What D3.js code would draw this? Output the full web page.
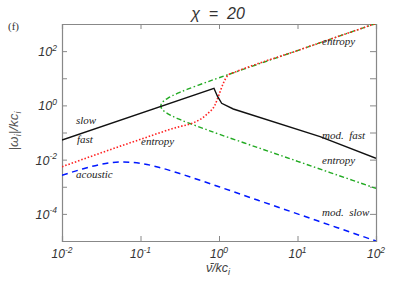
<!DOCTYPE html>
<html><head><meta charset="utf-8">
<script src="https://cdn.jsdelivr.net/npm/d3@7"></script>
<style>
html,body{margin:0;padding:0;background:#fff;}
svg{display:block;}
</style></head>
<body>
<svg id="chart" width="407" height="291"></svg>
<script>
// ---- data ----
const xTicks = [1e-2, 1e-1, 1e0, 1e1, 1e2];
const xTickExp = ["-2", "-1", "0", "1", "2"];
const yTicks = [1e-5, 1e-4, 1e-3, 1e-2, 1e-1, 1e0, 1e1, 1e2, 1e3];
const yLabelTicks = [1e-4, 1e-2, 1e0, 1e2];
const yTickExp = ["-4", "-2", "0", "2"];

// solid black: slow -> mod. fast
const blackNu    = [0.01, 0.863, 0.951, 1.081, 1.52, 19.4, 100];
const blackOmega = [0.0525, 4.27, 2.22, 1.19, 0.736, 0.070, 0.0112];

// red dotted: entropy
const redNu    = [0.01, 0.0986, 0.318, 0.428, 0.573, 0.724, 0.889, 0.979, 1.135, 1.312, 1.60, 10, 100];
const redOmega = [0.00547, 0.0552, 0.166, 0.206, 0.302, 0.511, 1.035, 2.09, 6.53, 13.2, 16.8, 105, 1050];

// green dash-dot: entropy (upper & lower branch joined at a nose)
const greenNu    = [100, 31.62, 10, 3.162, 1, 0.631, 0.398, 0.3162, 0.2512, 0.2239, 0.1995, 0.1905, 0.1841, 0.1816,
                    0.1841, 0.1905, 0.1995, 0.2239, 0.2512, 0.3162, 0.398, 0.631, 1, 3.162, 10, 31.62, 100];
const greenOmega = [1050, 332, 105, 33.2, 10.4, 6.49, 3.95, 3.02, 2.23, 1.86, 1.48, 1.30, 1.12, 0.955,
                    0.811, 0.70, 0.615, 0.489, 0.408, 0.302, 0.231, 0.141, 0.0867, 0.0274, 0.00867, 0.00274, 0.00087];

// blue dashed: acoustic -> mod. slow
const blueNu    = [0.01, 0.01778, 0.03162, 0.05623, 0.1, 0.1778, 0.3162, 0.5623, 1, 3.162, 10, 31.62, 100];
const blueOmega = [0.00263, 0.00443, 0.00673, 0.00821, 0.00732, 0.00506, 0.00306, 0.00177, 0.0010, 0.000316, 0.0001, 0.0000316, 0.00001];

const labels = [
  {t: "slow", x: 76, y: 124},
  {t: "fast", x: 77, y: 143},
  {t: "entropy", x: 141, y: 145},
  {t: "acoustic", x: 76, y: 178},
  {t: "entropy", x: 322, y: 45},
  {t: "mod.  fast", x: 322, y: 139},
  {t: "entropy", x: 322, y: 164},
  {t: "mod.  slow", x: 322, y: 216}
];

// ---- layout ----
const L = 62, R = 376, T = 24, B = 241;
const svg = d3.select("#chart");
const x = d3.scaleLog().domain([1e-2, 1e2]).range([L, R]);
const y = d3.scaleLog().domain([1e-5, 1e3]).range([B, T]);
const axisColor = "#888";
const textColor = "#333";

svg.append("defs").append("clipPath").attr("id", "clip")
  .append("rect").attr("x", L).attr("y", T).attr("width", R - L).attr("height", B - T);

// axes
const tk = 5;
const gB = svg.append("g").attr("transform", `translate(0,${B})`)
  .call(d3.axisBottom(x).tickValues(xTicks).tickSize(-tk).tickFormat(""));
const gT = svg.append("g").attr("transform", `translate(0,${T})`)
  .call(d3.axisTop(x).tickValues(xTicks).tickSize(-tk).tickFormat(""));
const gL = svg.append("g").attr("transform", `translate(${L},0)`)
  .call(d3.axisLeft(y).tickValues(yTicks).tickSize(-tk).tickFormat(""));
const gR = svg.append("g").attr("transform", `translate(${R},0)`)
  .call(d3.axisRight(y).tickValues(yTicks).tickSize(-tk - 1).tickFormat(""));
[gB, gT, gL, gR].forEach(g => {
  g.selectAll(".domain").attr("stroke", axisColor).attr("stroke-width", 1.2);
  g.selectAll(".tick line").attr("stroke", axisColor).attr("stroke-width", 1);
});

// curves
const line = d3.line().x(d => x(d[0])).y(d => y(d[1]));
const lineM = d3.line().x(d => x(d[0])).y(d => y(d[1])).curve(d3.curveMonotoneX);
const lineC = d3.line().x(d => x(d[0])).y(d => y(d[1])).curve(d3.curveCatmullRom.alpha(0.5));
const plot = svg.append("g").attr("clip-path", "url(#clip)");
const zip = (a, b) => a.map((v, i) => [v, b[i]]);

plot.append("path").datum(zip(blueNu, blueOmega)).attr("d", lineM)
  .attr("fill", "none").attr("stroke", "#0018ff").attr("stroke-width", 1.5)
  .attr("stroke-dasharray", "6,4.5");
plot.append("path").datum(zip(greenNu, greenOmega)).attr("d", lineC)
  .attr("fill", "none").attr("stroke", "#22aa22").attr("stroke-width", 1.4)
  .attr("stroke-dasharray", "5,2.5,1.5,2.5");
plot.append("path").datum(zip(redNu, redOmega)).attr("d", lineM)
  .attr("fill", "none").attr("stroke", "#ff2020").attr("stroke-width", 1.6)
  .attr("stroke-dasharray", "1.5,1.9");
plot.append("path").datum(zip(blackNu, blackOmega)).attr("d", line)
  .attr("fill", "none").attr("stroke", "#111").attr("stroke-width", 1.4);

// curve labels
svg.append("g").selectAll("text").data(labels).join("text")
  .attr("x", d => d.x).attr("y", d => d.y)
  .attr("font-family", "'Liberation Serif', 'DejaVu Serif', serif")
  .attr("font-style", "italic").attr("font-size", 11).attr("fill", "#222")
  .style("white-space", "pre")
  .text(d => d.t);

// tick labels
const tickFont = "'Liberation Sans', Arial, sans-serif";
const xl = svg.append("g");
xTicks.forEach((v, i) => {
  const t = xl.append("text").attr("x", x(v)).attr("y", 258)
    .attr("text-anchor", "middle").attr("font-family", tickFont)
    .attr("font-style", "italic").attr("font-size", 12).attr("fill", textColor);
  t.append("tspan").text("10");
  t.append("tspan").attr("dy", -5.5).attr("font-size", 8.5).text(xTickExp[i]);
});
const yl = svg.append("g");
yLabelTicks.forEach((v, i) => {
  const t = yl.append("text").attr("x", 57).attr("y", y(v) + 5)
    .attr("text-anchor", "end").attr("font-family", tickFont)
    .attr("font-style", "italic").attr("font-size", 12.5).attr("fill", textColor);
  t.append("tspan").text("10");
  t.append("tspan").attr("dy", -5.5).attr("font-size", 8.5).text(yTickExp[i]);
});

// axis titles
const xt = svg.append("text").attr("x", 218).attr("y", 272).attr("text-anchor", "middle")
  .attr("font-family", tickFont).attr("font-style", "italic").attr("font-size", 12.5).attr("fill", "#444");
xt.append("tspan").text("\u03BD\u0304/kc");
xt.append("tspan").attr("dy", 3).attr("font-size", 9).text("i");

const yt = svg.append("text").attr("transform", "translate(18,131) rotate(-90)")
  .attr("text-anchor", "middle")
  .attr("font-family", tickFont).attr("font-style", "italic").attr("font-size", 13.5).attr("fill", "#555");
yt.append("tspan").text("|\u03C9");
yt.append("tspan").attr("dy", 3).attr("font-size", 9).text("i");
yt.append("tspan").attr("dy", -3).text("|/kc");
yt.append("tspan").attr("dy", 3).attr("font-size", 9).text("i");

// title
svg.append("text").attr("x", 218).attr("y", 19).attr("text-anchor", "middle")
  .attr("font-family", tickFont).attr("font-style", "italic").attr("font-size", 16).attr("fill", textColor)
  .style("white-space", "pre").text("\u03C7  =  20");

// panel tag
svg.append("text").attr("x", 8).attr("y", 30)
  .attr("font-family", "'Liberation Serif', serif").attr("font-size", 11).attr("fill", textColor)
  .text("(f)");
</script>
</body></html>
